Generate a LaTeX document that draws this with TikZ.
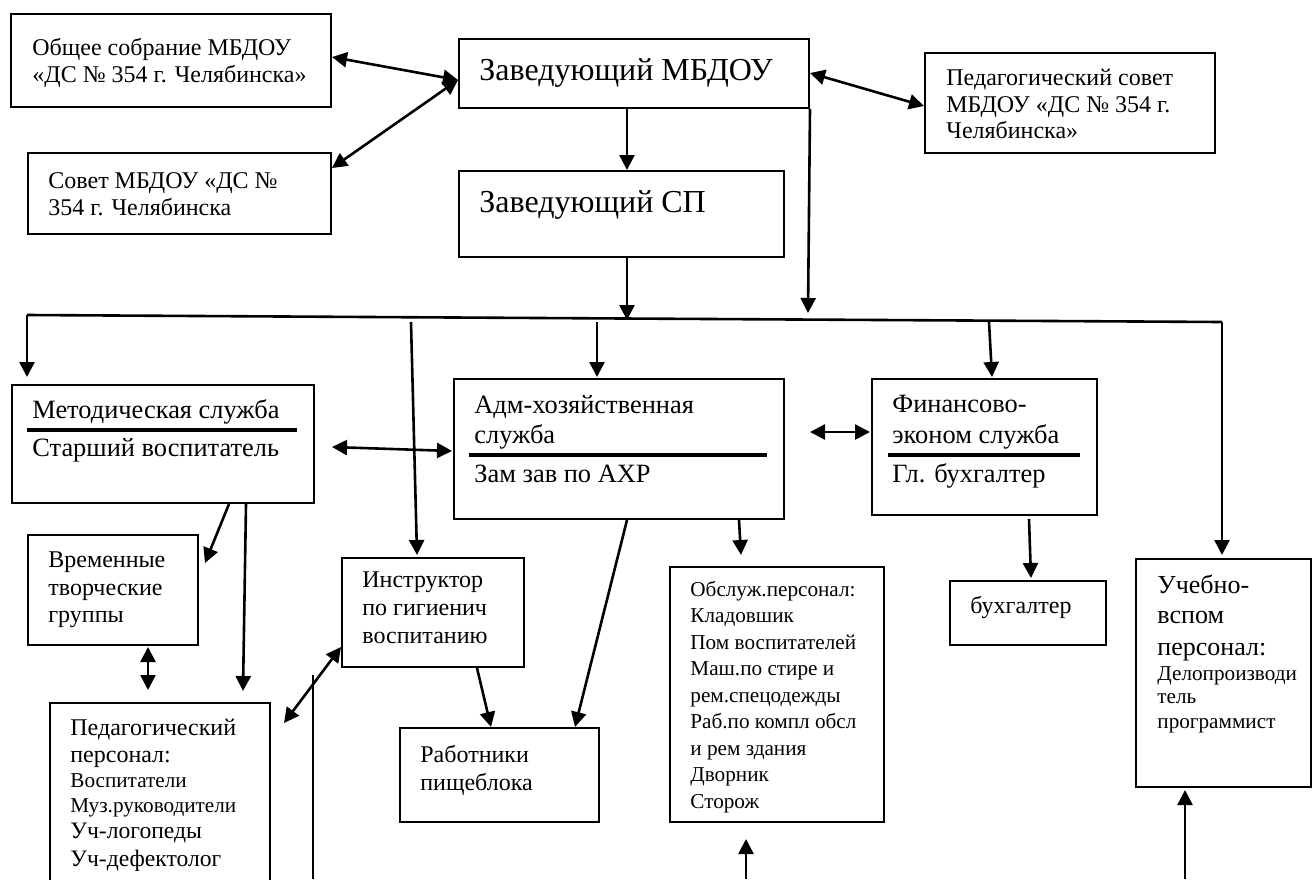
\documentclass[tikz,border=0pt]{standalone}
\usepackage{fontspec}
\setmainfont{Liberation Serif}
\usetikzlibrary{arrows.meta,calc}
\begin{document}
\begin{tikzpicture}[x=0.5pt,y=-0.5pt,
  box/.style={draw,line width=1pt,inner sep=0pt,anchor=north west},
  con/.style={line width=1.3pt},
  arr/.style={con,-{Triangle[length=7.5pt,width=7.5pt]}},
  darr/.style={con,{Triangle[length=7.5pt,width=7.5pt]}-{Triangle[length=7.5pt,width=7.5pt]}},
  rulel/.style={line width=2pt},
  tl/.style={anchor=base west,inner sep=0pt},
  fa/.style={tl,font=\fontsize{12}{13}\selectfont},
  fb/.style={tl,font=\fontsize{16}{18}\selectfont},
  fc/.style={tl,font=\fontsize{13.2}{14}\selectfont},
  fg/.style={tl,font=\fontsize{13}{14}\selectfont},
  fd/.style={tl,font=\fontsize{10.6}{11}\selectfont},
  fe/.style={tl,font=\fontsize{11.8}{12}\selectfont}]
\useasboundingbox (0,0) rectangle (1312,879);
\clip (0,0) rectangle (1312,879);

% boxes
\node[box,minimum width=160pt,minimum height=46.5pt] (obs) at (10,13) {};
\node[box,minimum width=151.5pt,minimum height=40.5pt] (sov) at (27,152) {};
\node[box,minimum width=175pt,minimum height=34.5pt] (zav) at (458,38) {};
\node[box,minimum width=162.5pt,minimum height=43pt] (sp) at (458,170) {};
\node[box,minimum width=145pt,minimum height=50pt] (ps) at (924,52) {};
\node[box,minimum width=151pt,minimum height=59pt] (met) at (11,384) {};
\node[box,minimum width=165pt,minimum height=70pt] (adm) at (453,378) {};
\node[box,minimum width=112.5pt,minimum height=68pt] (fin) at (871,378) {};
\node[box,minimum width=85pt,minimum height=55pt] (vrem) at (27,534) {};
\node[box,minimum width=91pt,minimum height=54.5pt] (instr) at (341,557) {};
\node[box,minimum width=110pt,minimum height=99pt] (pp) at (49,702) {};
\node[box,minimum width=99.5pt,minimum height=47pt] (rab) at (399,727) {};
\node[box,minimum width=107pt,minimum height=127.5pt] (obsl) at (669,566) {};
\node[box,minimum width=78pt,minimum height=32pt] (buh) at (949,580) {};
\node[box,minimum width=87.5pt,minimum height=114pt] (ucheb) at (1135,558) {};

% rules
\draw[rulel] ($(met.north west)+(16,46)$) -- ($(met.north west)+(286,46)$);
\draw[rulel] ($(adm.north west)+(16,77)$) -- ($(adm.north west)+(314,77)$);
\draw[rulel] ($(fin.north west)+(17,77)$) -- ($(fin.north west)+(209,77)$);

% texts
\node[fa] (t1) at (32,55) {Общее собрание МБДОУ};
\node[fa] (t2) at (32,82) {«ДС № 354 г. Челябинска»};
\node[fa] (t3) at (48,188) {Совет МБДОУ «ДС №};
\node[fa] (t4) at (48,215) {354 г. Челябинска};
\node[fb] (t5) at (479,80) {Заведующий МБДОУ};
\node[fb] (t6) at (479,212) {Заведующий СП};
\node[fa] (t7) at (946,85) {Педагогический совет};
\node[fa] (t8) at (946,112) {МБДОУ «ДС № 354 г.};
\node[fa] (t9) at (946,138) {Челябинска»};
\node[fc] (t10) at (32,418) {Методическая служба};
\node[fc] (t11) at (32,456) {Старший воспитатель};
\node[fc] (t12) at (474,413) {Адм-хозяйственная};
\node[fc] (t13) at (474,443) {служба};
\node[fc] (t14) at (474,482) {Зам зав по АХР};
\node[fc] (t15) at (892,412) {Финансово-};
\node[fc] (t16) at (892,443) {эконом служба};
\node[fc] (t17) at (892,482) {Гл. бухгалтер};
\node[fa] (t18) at (48,567) {Временные};
\node[fa] (t19) at (48,595) {творческие};
\node[fa] (t20) at (48,622) {группы};
\node[fa] (t21) at (362,587) {Инструктор};
\node[fa] (t22) at (362,615) {по гигиенич};
\node[fa] (t23) at (362,643) {воспитанию};
\node[fa] (t24) at (70,735) {Педагогический};
\node[fa] (t25) at (70,762) {персонал:};
\node[fd] (t26) at (70,787) {Воспитатели};
\node[fd] (t27) at (70,812) {Муз.руководители};
\node[fe] (t28) at (70,838) {Уч-логопеды};
\node[fe] (t29) at (70,866) {Уч-дефектолог};
\node[fa] (t30) at (420,762) {Работники};
\node[fa] (t31) at (420,790) {пищеблока};
\node[fd] (t32) at (690,596) {Обслуж.персонал:};
\node[fd] (t33) at (690,622.5) {Кладовшик};
\node[fd] (t34) at (690,649) {Пом воспитателей};
\node[fd] (t35) at (690,675.5) {Маш.по стире и};
\node[fd] (t36) at (690,702) {рем.спецодежды};
\node[fd] (t37) at (690,728.5) {Раб.по компл обсл};
\node[fd] (t38) at (690,755) {и рем здания};
\node[fd] (t39) at (690,781.5) {Дворник};
\node[fd] (t40) at (690,808) {Сторож};
\node[fa] (t41) at (970,613) {бухгалтер};
\node[fg] (t42) at (1157,593) {Учебно-};
\node[fg] (t43) at (1157,623) {вспом};
\node[fg] (t44) at (1157,655) {персонал:};
\node[fd] (t45) at (1157,680) {Делопроизводи};
\node[fd] (t46) at (1157,703) {тель};
\node[fd] (t47) at (1157,728) {программист};

% coordinates
\coordinate (hl) at (27,315);
\coordinate (hr) at (1222,322);
\coordinate (m1) at (627,320);
\coordinate (m2) at (808,313);
\coordinate (s1) at (597,322);
\coordinate (s2) at (989,322);
\coordinate (s3) at (411,322);
\coordinate (v1) at (313,675);
\coordinate (v2) at (313,879);
\coordinate (b1) at (746,879);
\coordinate (b2) at (1185,879);

% connectors
\draw[darr] ($(obs.north east)+(0,44)$) -- ($(zav.north west)+(0,42)$);
\draw[darr] ($(sov.north east)+(0,16)$) -- ($(zav.north west)+(0,42)$);
\draw[darr] ($(zav.north east)+(0,35)$) -- ($(ps.north west)+(0,54)$);
\draw[arr] ($(zav.south west)+(169,0)$) -- ($(sp.north west)+(169,0)$);
\draw[arr] ($(sp.south west)+(169,0)$) -- (m1);
\draw[arr] (zav.south east) -- (m2);
\draw[con] (hl) -- (hr);
\draw[arr] (hl) -- ($(met.north west)+(16,-7)$);
\draw[arr] (hr) -- ($(ucheb.north west)+(87,-3)$);
\draw[arr] (s1) -- ($(adm.north west)+(144,-1)$);
\draw[arr] (s2) -- ($(fin.north west)+(121,-1)$);
\draw[arr] (s3) -- ($(instr.north west)+(76,-2)$);
\draw[darr] ($(met.north east)+(17,63)$) -- ($(adm.north west)+(-1,73)$);
\draw[darr] ($(adm.north east)+(25,54)$) -- ($(fin.north west)+(-1,54)$);
\draw[arr] ($(met.south west)+(218,0)$) -- ($(vrem.north east)+(6,29)$);
\draw[arr] ($(met.south west)+(235,0)$) -- ($(pp.north west)+(194,-11)$);
\draw[darr] ($(vrem.south west)+(121,1)$) -- ($(pp.north west)+(99,-12)$);
\draw[darr] ($(instr.south west)+(0,-21)$) -- ($(pp.north east)+(13,21)$);
\draw[con] (v1) -- (v2);
\draw[arr] ($(instr.south west)+(136,0)$) -- ($(rab.north west)+(92,0)$);
\draw[arr] ($(adm.south west)+(174,0)$) -- ($(rab.north west)+(176,0)$);
\draw[arr] ($(adm.south west)+(286,0)$) -- ($(obsl.north west)+(72,-11)$);
\draw[arr] ($(fin.south west)+(158,3)$) -- ($(buh.north west)+(82,-2)$);
\draw[arr] (b1) -- ($(obsl.south west)+(77,16)$);
\draw[arr] (b2) -- ($(ucheb.south west)+(50,2)$);
\end{tikzpicture}
\end{document}
